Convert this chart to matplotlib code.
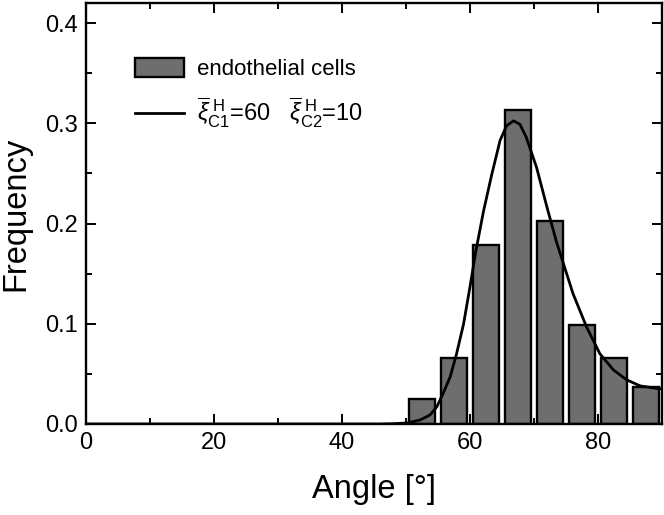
import numpy as np
import matplotlib
matplotlib.use("Agg")
import matplotlib.pyplot as plt

plt.rcParams['font.family'] = ['Liberation Sans', 'DejaVu Sans']
plt.rcParams['mathtext.fontset'] = 'custom'
plt.rcParams['mathtext.rm'] = 'Liberation Sans'
plt.rcParams['mathtext.it'] = 'Liberation Sans:italic'

# histogram (bin centres, frequency)
bin_centres = [52.5, 57.5, 62.5, 67.5, 72.5, 77.5, 82.5, 87.5]
freq = [0.025, 0.066, 0.179, 0.313, 0.203, 0.099, 0.066, 0.037]

# fitted curve
curve_x = [0, 46, 48, 50.1, 52.2, 53.75, 54.8, 55.8, 56.9, 57.9, 59.0, 60.0, 60.9,
           62.1, 63.4, 64.7, 65.7, 66.8, 67.8, 68.8, 70.4, 72.0, 73.5, 74.1, 76.1,
           78.2, 80.3, 82.4, 84.5, 86.6, 89.2, 90]
curve_y = [0, 0, 0.0003, 0.001, 0.004, 0.009, 0.017, 0.0305, 0.047, 0.07, 0.10, 0.137, 0.172,
           0.212, 0.249, 0.283, 0.2975, 0.3025, 0.299, 0.286, 0.256, 0.217, 0.182, 0.170, 0.130,
           0.097, 0.070, 0.054, 0.044, 0.038, 0.0355, 0.035]

fig = plt.figure(figsize=(6.64, 5.15), dpi=100)
ax = fig.add_axes([0.1295, 0.1767, 0.8675, 0.8173])

bars = ax.bar(bin_centres, freq, width=4.1, color='#6e6e6e', edgecolor='black',
              linewidth=1.7, zorder=2)
line, = ax.plot(curve_x, curve_y, color='black', lw=2.0, zorder=3,
                solid_joinstyle='round')

ax.set_xlim(0, 90)
ax.set_ylim(0, 0.42)
ax.set_xticks([0, 20, 40, 60, 80])
ax.set_xticks(np.arange(10, 90, 20), minor=True)
ax.set_yticks([0.0, 0.1, 0.2, 0.3, 0.4])
ax.set_yticks([0.05, 0.15, 0.25, 0.35], minor=True)
ax.set_yticklabels(['0.0', '0.1', '0.2', '0.3', '0.4'])
ax.tick_params(which='both', direction='in', top=True, right=True, width=1.4,
               labelsize=17, pad=6)
ax.tick_params(which='major', length=7.5)
ax.tick_params(which='minor', length=4)
for s in ax.spines.values():
    s.set_linewidth(1.7)

ax.set_xlabel('Angle [°]', fontsize=23.5, labelpad=14)
ax.set_ylabel('Frequency', fontsize=23.5, labelpad=10)

label2 = (r'$\overline{\xi}_{\mathrm{C1}}^{\ \mathrm{H}}$=60   '
          r'$\overline{\xi}_{\mathrm{C2}}^{\ \mathrm{H}}$=10')
leg = ax.legend([bars, line], ['endothelial cells', label2],
                loc='upper left', bbox_to_anchor=(0.05, 0.918), frameon=False,
                fontsize=16, handlelength=2.2, handleheight=1.0, labelspacing=0.7,
                handletextpad=0.6)
leg.get_texts()[1].set_fontsize(17)

fig.savefig('out.png', dpi=100)
